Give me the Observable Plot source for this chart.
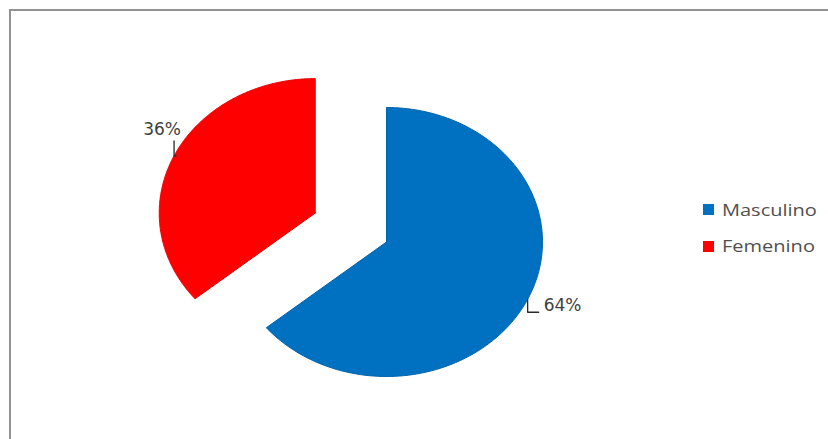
<!DOCTYPE html>
<html>
<head>
<meta charset="utf-8">
<script src="https://cdn.jsdelivr.net/npm/d3@7"></script>
<script src="https://cdn.jsdelivr.net/npm/@observablehq/plot@0.6"></script>
<style>
  html, body { margin: 0; padding: 0; background: #fff; overflow: hidden; width: 828px; height: 439px; }
  #wrap { position: relative; width: 828px; height: 439px; }
  #border { position: absolute; left: 9px; top: 9px; width: 900px; height: 500px;
            border-left: 2px solid #939393; border-top: 2px solid #939393; box-sizing: border-box; }
  #chart { position: absolute; left: 0; top: 0; }
  .leg { position: absolute; left: 703px; height: 20px; display: flex; align-items: center;
         font-family: "Open Sans", sans-serif; font-size: 16px; color: #505050; white-space: nowrap; }
  .sw { width: 11px; height: 11px; margin-right: 8px; flex: none; }
  .lt { display: inline-block; transform: scaleX(1.25); transform-origin: left center; }
</style>
</head>
<body>
<div id="wrap">
  <div id="border"></div>
  <div id="chart"></div>
</div>
<script>
// ---- data ----
const categories = ["Masculino", "Femenino"];
const values = [64, 36];
const labels = ["64%", "36%"];
const colors = ["#0070C0", "#FF0000"];
const strokes = ["#0063AB", "#E80000"];
const explode = [0, 0.505];

// ---- geometry (unit ellipse, y up) ----
const W = 828, H = 439;
const x0 = -2.4744, x1 = 2.8333;   // x domain
const y0 = -1.4684, y1 = 1.7955;   // y domain
const kx = (x1 - x0) / W, ky = (y1 - y0) / H; // data units per pixel

const arcs = d3.pie().sort(null).value(d => d)(values);
const slices = arcs.map((a, i) => {
  const mid = (a.startAngle + a.endAngle) / 2;
  const cx = explode[i] * Math.sin(mid), cy = explode[i] * Math.cos(mid);
  const pts = [{x: cx, y: cy}];
  const n = 240;
  for (let j = 0; j <= n; j++) {
    const t = a.startAngle + (a.endAngle - a.startAngle) * j / n;
    pts.push({x: cx + Math.sin(t), y: cy + Math.cos(t)});
  }
  pts.push({x: cx, y: cy});
  const ax = cx + Math.sin(mid), ay = cy + Math.cos(mid);
  return {i, mid, pts, ax, ay};
});

// label anchors & leader lines
const lab = slices.map(s => {
  const right = Math.sin(s.mid) > 0;
  let leader, tx, ty, anchor;
  if (right) {
    leader = [
      {x: s.ax, y: s.ay},
      {x: s.ax, y: s.ay - 13 * ky},
      {x: s.ax + 11 * kx, y: s.ay - 13 * ky}
    ];
    tx = s.ax + 16 * kx; ty = s.ay - 6 * ky; anchor = "start";
  } else {
    leader = [
      {x: s.ax + 2 * kx, y: s.ay},
      {x: s.ax, y: s.ay},
      {x: s.ax, y: s.ay + 15 * ky}
    ];
    tx = s.ax - 12 * kx; ty = s.ay + 26 * ky; anchor = "middle";
  }
  return {leader, tx, ty, anchor, text: labels[s.i]};
});

const marks = [];
slices.forEach(s => {
  marks.push(Plot.line(s.pts, {x: "x", y: "y", fill: colors[s.i], stroke: strokes[s.i], strokeWidth: 1, curve: "linear"}));
});
lab.forEach(l => {
  marks.push(Plot.line(l.leader, {x: "x", y: "y", stroke: "#2a2a2a", strokeWidth: 1.3}));
  marks.push(Plot.text([l], {x: "tx", y: "ty", text: "text", textAnchor: l.anchor, lineAnchor: "middle",
    fontSize: 17, fontFamily: "DejaVu Sans", fill: "#404040"}));
});

const plot = Plot.plot({
  width: W, height: H,
  margin: 0,
  x: {domain: [x0, x1], axis: null},
  y: {domain: [y0, y1], axis: null},
  style: {background: "transparent", overflow: "visible"},
  marks
});
document.getElementById("chart").appendChild(plot);

// legend
const centers = [209.5, 246];
categories.forEach((c, i) => {
  const row = document.createElement("div");
  row.className = "leg";
  row.style.top = (centers[i] - 10) + "px";
  row.innerHTML = `<span class="sw" style="background:${colors[i]}"></span><span class="lt">${c}</span>`;
  document.getElementById("wrap").appendChild(row);
});
</script>
</body>
</html>
